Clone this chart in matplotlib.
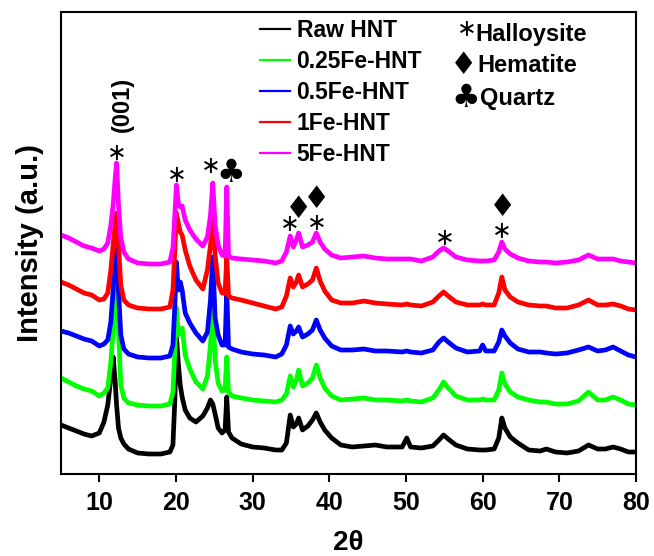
import matplotlib
matplotlib.use('Agg')
import matplotlib.pyplot as plt

# ---------------- data (intensity in arbitrary units) ----------------
two_theta = [5, 6, 7, 8, 9, 10, 10.6, 11.1, 11.5, 11.8, 12.05, 12.25, 12.5, 12.8, 13.2, 13.8,
             15, 16.5, 18, 19.2, 19.6, 19.85, 20.05, 20.3, 20.55, 20.8, 21.2, 21.8, 22.6, 23.5,
             24.1, 24.5, 24.8, 25.1, 25.5, 26.0, 26.4, 26.62, 26.85, 27.3, 28.5, 30, 31.5, 33,
             33.8, 34.4, 34.9, 35.3, 35.7, 36.0, 36.5, 37.2, 37.8, 38.3, 38.8, 39.4, 40.3, 41.5,
             43, 44.5, 46, 47.5, 49.5, 50.1, 50.6, 52, 53.5, 54.3, 54.9, 55.5, 56.5, 58, 59.6,
             60.0, 60.4, 61.5, 62.1, 62.5, 62.9, 63.6, 64.6, 66, 67.5, 68.3, 69.5, 71, 72.5,
             73.8, 75, 76, 77, 78, 79, 80]

raw_hnt = [49, 46, 43, 40, 38, 41, 52, 69, 96, 117, 94, 69, 46, 36, 30, 25,
           21, 20, 20, 22, 29, 74, 139, 111, 89, 77, 64, 56, 52, 58,
           66, 74, 70, 60, 46, 41, 44, 77, 42, 36, 30, 27, 26, 24,
           24, 31, 59, 47, 50, 56, 44, 48, 54, 61, 52, 44, 36, 29,
           27, 28, 29, 27, 27, 36, 27, 26, 28, 34, 39, 35, 29, 25, 24,
           24, 24, 25, 36, 56, 46, 37, 31, 24, 23, 25, 22, 21, 23,
           29, 25, 25, 27, 25, 22, 22]

fe_025 = [96, 92, 88, 85, 83, 78, 81, 86, 112, 144, 184, 204, 144, 89, 76, 71,
          69, 68, 68, 70, 82, 124, 166, 139, 144, 146, 119, 105, 92, 85,
          98, 129, 169, 114, 91, 83, 84, 117, 82, 78, 76, 74, 73, 72,
          74, 80, 98, 87, 94, 104, 88, 91, 96, 109, 96, 86, 78, 74,
          75, 76, 74, 74, 73, 74, 73, 72, 76, 84, 92, 86, 78, 74, 74,
          75, 74, 74, 84, 101, 90, 82, 77, 74, 72, 72, 70, 70, 73,
          82, 74, 74, 77, 74, 70, 69]

fe_05 = [143, 141, 138, 135, 133, 128, 130, 134, 152, 184, 224, 246, 184, 139, 125, 120,
         117, 116, 116, 118, 129, 169, 212, 184, 192, 184, 161, 151, 141, 133,
         142, 174, 217, 156, 139, 129, 129, 184, 127, 125, 122, 120, 119, 117,
         120, 129, 148, 140, 143, 147, 137, 140, 144, 154, 144, 136, 128, 124,
         124, 125, 123, 123, 122, 123, 122, 121, 124, 132, 136, 132, 126, 122, 123,
         129, 123, 123, 132, 144, 138, 131, 125, 122, 122, 121, 120, 121, 124,
         127, 123, 124, 127, 123, 119, 117]

fe_1 = [192, 189, 185, 181, 179, 174, 175, 181, 204, 229, 249, 261, 229, 189, 174, 169,
        166, 165, 165, 167, 184, 224, 261, 251, 242, 239, 224, 208, 194, 185,
        204, 229, 257, 219, 191, 181, 181, 217, 178, 176, 174, 171, 168, 165,
        167, 178, 196, 187, 192, 199, 187, 190, 194, 206, 193, 183, 174, 171,
        171, 173, 171, 170, 169, 170, 169, 168, 172, 178, 182, 178, 172, 169, 169,
        170, 169, 169, 181, 197, 184, 177, 172, 169, 168, 168, 166, 166, 169,
        174, 169, 169, 170, 168, 165, 164]

fe_5 = [239, 236, 232, 228, 226, 223, 225, 231, 249, 269, 294, 311, 269, 236, 222, 215,
        211, 210, 210, 212, 226, 259, 289, 271, 267, 268, 254, 244, 235, 228,
        237, 259, 291, 249, 229, 219, 218, 287, 218, 216, 215, 214, 213, 211,
        213, 222, 238, 227, 234, 241, 227, 229, 232, 241, 232, 225, 219, 216,
        217, 218, 216, 215, 215, 215, 215, 213, 217, 223, 226, 223, 217, 214, 213,
        213, 213, 214, 222, 232, 225, 220, 216, 213, 212, 212, 211, 212, 214,
        219, 215, 215, 215, 213, 212, 211]

series_labels = ['Raw HNT', '0.25Fe-HNT', '0.5Fe-HNT', '1Fe-HNT', '5Fe-HNT']
series_colors = ['#000000', '#00ff00', '#0000ff', '#ff0000', '#ff00ff']
x_ticks = [10, 20, 30, 40, 50, 60, 70, 80]

# phase markers above peaks (2theta, height)
halloysite_x = [12.31, 20.1, 24.6, 34.85, 38.38, 55.13, 62.53]
halloysite_y = [321, 299, 308, 250, 251, 236, 243]
hematite_x = [36.0, 38.38, 62.61]
hematite_y = [264, 275, 267]
quartz_x = [27.2]
quartz_y = [301]

all_series = [raw_hnt, fe_025, fe_05, fe_1, fe_5]
for s in all_series:
    assert len(s) == len(two_theta), (len(s), len(two_theta))

# ---------------- figure ----------------
fig = plt.figure(figsize=(6.54, 5.56), dpi=100)
ax = fig.add_axes([61 / 654, 82 / 556, 575 / 654, 462 / 556])

for vals, lab, col in zip(all_series, series_labels, series_colors):
    ax.plot(two_theta, vals, color=col, lw=3.4, label=lab)

ax.set_xlim(5, 80)
ax.set_ylim(0, 462)
ax.set_xticks(x_ticks)
ax.set_yticks([])
for sp in ax.spines.values():
    sp.set_linewidth(1.5)
ax.tick_params(axis='x', direction='out', length=6, width=1.5, pad=6)
for t in ax.get_xticklabels():
    t.set_fontfamily('Liberation Sans')
    t.set_fontweight('bold')
    t.set_fontsize(18)

ax.set_xlabel('2θ', fontsize=20, fontweight='bold', family='Liberation Sans', labelpad=11)
ax.set_ylabel('Intensity (a.u.)', fontsize=21, fontweight='bold', family='Liberation Sans',
              labelpad=12)

leg = ax.legend(loc='upper left', bbox_to_anchor=(0.346, 0.984), frameon=False,
                prop={'family': 'Liberation Sans', 'weight': 'bold', 'size': 16.5},
                handlelength=1.3, handletextpad=0.3, labelspacing=0.35, borderpad=0,
                borderaxespad=0)
for ln in leg.get_lines():
    ln.set_linewidth(1.6)

sym_font = ['DejaVu Sans']
for x, y in zip(halloysite_x, halloysite_y):
    ax.text(x, y, '∗', ha='center', va='center', fontsize=17, family=sym_font)
for x, y in zip(hematite_x, hematite_y):
    ax.text(x, y, '♦', ha='center', va='center', fontsize=22, family=sym_font)
for x, y in zip(quartz_x, quartz_y):
    ax.text(x, y, '♣', ha='center', va='center', fontsize=23, family=sym_font)

ax.text(12.96, 370, '(001)', rotation=90, ha='center', va='center', fontsize=17,
        fontweight='bold', family='Liberation Sans')

# phase key
ax.text(57.9, 445, '∗', ha='center', va='center', fontsize=17, family=sym_font)
ax.text(59.05, 440, 'Halloysite', ha='left', va='center', fontsize=17, fontweight='bold',
        family='Liberation Sans')
ax.text(57.55, 409, '♦', ha='center', va='center', fontsize=22, family=sym_font)
ax.text(59.3, 408, 'Hematite', ha='left', va='center', fontsize=17, fontweight='bold',
        family='Liberation Sans')
ax.text(57.8, 376, '♣', ha='center', va='center', fontsize=23, family=sym_font)
ax.text(59.7, 375, 'Quartz', ha='left', va='center', fontsize=17, fontweight='bold',
        family='Liberation Sans')

fig.savefig('out.png', dpi=100)
